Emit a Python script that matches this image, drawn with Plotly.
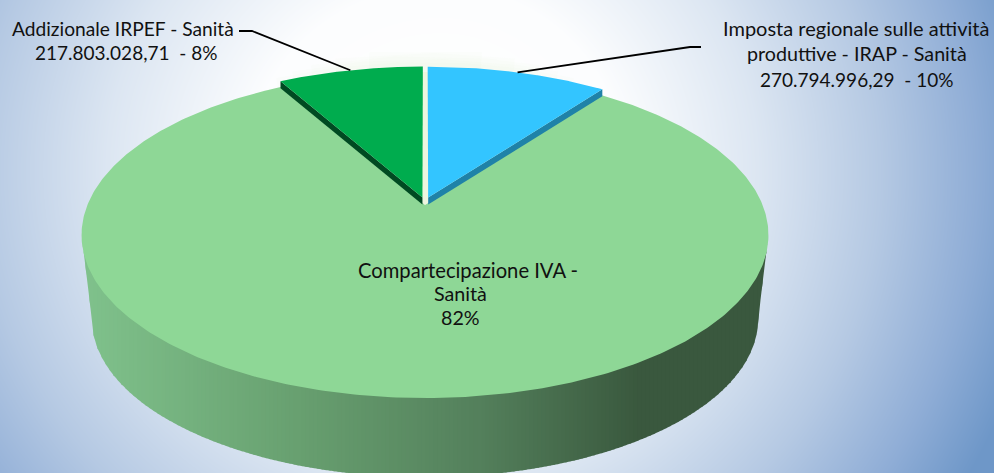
import math
import numpy as np
import plotly.graph_objects as go

# ---- data ----
slice_names = ["Imposta regionale sulle attività produttive - IRAP - Sanità",
               "Compartecipazione IVA - Sanità",
               "Addizionale IRPEF - Sanità"]
slice_shares = [10.2, 81.6, 8.2]
slice_colors = ["#33C5FF", "#8ED796", "#00AC4E"]
side_colors = ["#1F82A8", None, "#004A22"]
label_texts = ["Addizionale IRPEF - Sanità", "217.803.028,71  - 8%",
               "Imposta regionale sulle attività", "produttive - IRAP - Sanità", "270.794.996,29  - 10%",
               "Compartecipazione IVA -", "Sanità", "82%"]

# ---- layout ----
label_x = [122.5, 125.5, 856, 856.5, 856.5, 467.5, 460.5, 460.5]
label_y = [28, 52.5, 27.5, 53.5, 79.5, 269.5, 293.5, 317.5]
label_size = [19.2, 19.0, 20.0, 19.7, 19.0, 20.2, 19.7, 19.7]

W, H = 994, 473
CX, CY = 425.0, 205.0
KP, SX, SY = 0.184, 337.6, 157.5       # perspective of the disc
DEPTH, BOTTOM_SCALE = 85.0, 0.97
EXPLODE_U, EXPLODE_V = 0.03, 0.05


def project(u, v, scale=1.0, dy=0.0):
    u = np.asarray(u, float)
    v = np.asarray(v, float)
    w = 1 + KP * v
    return CX + scale * SX * u / w, CY + dy - scale * SY * v / w


def no_legend_trace(x, y, color=None, line=None, fill=True):
    return go.Scatter(x=x, y=y, mode="lines", fill="toself" if fill else None,
                      fillcolor=color, line=line or dict(width=0), hoverinfo="skip", showlegend=False)


fig = go.Figure()

# background glow
gx = np.arange(0, W + 6, 6)
gy = np.arange(0, H + 6, 6)
xx, yy = np.meshgrid(gx, gy)
dxg = xx - 440.0
dxg = np.where(dxg < 0, dxg / 1.05, dxg)
dist = np.hypot(dxg, yy - 170.0)
fig.add_trace(go.Heatmap(
    x=gx, y=gy, z=np.round(dist, 1), zmin=0, zmax=610, zsmooth="best", showscale=False,
    hoverinfo="skip",
    colorscale=[[0, "#FFFFFF"], [0.3, "#FCFDFE"], [0.52, "#DCE6F2"],
                [0.72, "#B5C9E3"], [0.88, "#8FADD6"], [1, "#6E97C8"]],
))

# outlines of the upper and lower disc
theta = np.linspace(0, 2 * math.pi, 1441)
ut, vt = np.sin(theta), np.cos(theta)
tx, ty = project(ut, vt)
bx, by = project(ut, vt, BOTTOM_SCALE, DEPTH)


def lower_curve(px, py):
    r, l = int(np.argmax(px)), int(np.argmin(px))
    return px[r:l + 1][::-1], py[r:l + 1][::-1]


top_lx, top_ly = lower_curve(tx, ty)
bot_lx, bot_ly = lower_curve(bx, by)
# silhouette of the solid: tangent from the upper disc's extreme to the lower disc's extreme
sil_x = np.r_[top_lx[0], bot_lx, top_lx[-1]]
sil_y = np.r_[top_ly[0], bot_ly, top_ly[-1]]

# soft pale-green glow above the disc, tapering off to the sides
for extent, width in [(0.86, 10), (0.89, 16), (0.92, 22), (0.95, 28), (0.98, 34)]:
    keep = vt > extent
    order = np.argsort(tx[keep])
    fig.add_trace(no_legend_trace(tx[keep][order], ty[keep][order] - 5, fill=False,
                                  line=dict(color="rgba(190,235,170,0.03)", width=width)))

# wall of the big slice, shaded left to right
wall_stops_x = [85, 300, 480, 640, 770]
wall_stops_rgb = [(128, 194, 140), (104, 160, 112), (84, 128, 92), (58, 88, 62), (58, 88, 62)]
edges = np.arange(float(tx.min()), float(tx.max()) + 4, 4.0)
for a, b in zip(edges[:-1], edges[1:]):
    xs = np.linspace(a, min(b + 1.0, float(tx.max())), 6)
    low = np.interp(xs, sil_x, sil_y)
    upper = np.interp(xs, top_lx, top_ly) - 2
    rgb = [int(np.interp(0.5 * (a + b), wall_stops_x, [c[i] for c in wall_stops_rgb])) for i in range(3)]
    fig.add_trace(no_legend_trace(np.r_[xs, xs[::-1]], np.r_[low, upper[::-1]], "rgb(%d,%d,%d)" % tuple(rgb)))

angles = [0.0, slice_shares[0] / 100 * 2 * math.pi,
          (slice_shares[0] + slice_shares[1]) / 100 * 2 * math.pi,
          2 * math.pi]

# pale seam visible between the two lifted slices
for a0, a1 in [(angles[0], angles[1]), (angles[2], angles[3])]:
    arc = np.linspace(a0, a1, 200)
    px, py = project(np.r_[0, np.sin(arc), 0], np.r_[0, np.cos(arc), 0])
    fig.add_trace(no_legend_trace(px, py, "#EEF6DF"))

anchors = {}
for idx in [1, 0, 2]:
    a0, a1 = angles[idx], angles[idx + 1]
    mid = 0.5 * (a0 + a1)
    if idx == 1:
        ou, ov = 0.0, 0.0
    else:
        ou, ov = EXPLODE_U * math.sin(mid), EXPLODE_V * math.cos(mid)
    arc = np.linspace(a0, a1, 400)
    u = np.r_[ou, ou + np.sin(arc), ou]
    v = np.r_[ov, ov + np.cos(arc), ov]
    px, py = project(u, v)
    if side_colors[idx]:
        end = a1 if idx == 0 else a0
        eu, ev = ou + math.sin(end), ov + math.cos(end)
        ax, ay = project(ou, ov)
        ex, ey = project(eu, ev)
        fig.add_trace(no_legend_trace(
            [float(ax), float(ex), float(ex), float(ax), float(ax)],
            [float(ay), float(ey), float(ey) + 7, float(ay) + 7, float(ay)], side_colors[idx]))
    fig.add_trace(go.Scatter(x=px, y=py, mode="lines", fill="toself", fillcolor=slice_colors[idx],
                             line=dict(width=0), name=slice_names[idx], hoverinfo="name", showlegend=False))
    mx, my = project(ou + math.sin(mid), ov + math.cos(mid))
    anchors[idx] = (float(mx), float(my))

# leader lines
for (lx, ly), knee in [(anchors[2], ((239, 31), (252, 31))), (anchors[0], ((701, 47), (690, 47)))]:
    fig.add_trace(no_legend_trace([knee[0][0], knee[1][0], lx], [knee[0][1], knee[1][1], ly], fill=False,
                                  line=dict(color="#000000", width=1.8)))

annotations = [dict(x=x, y=y, text=t, showarrow=False, xanchor="center", yanchor="middle",
                    font=dict(family="Lato, Carlito, sans-serif", size=s, color="#111111"))
               for t, x, y, s in zip(label_texts, label_x, label_y, label_size)]

fig.update_layout(
    width=W, height=H, margin=dict(l=0, r=0, t=0, b=0), showlegend=False,
    paper_bgcolor="#FFFFFF", plot_bgcolor="#FFFFFF", annotations=annotations,
    xaxis=dict(range=[0, W], visible=False, fixedrange=True),
    yaxis=dict(range=[H, 0], visible=False, fixedrange=True),
)
fig.write_html("out.html", config={"displayModeBar": False})
with open("out.html", encoding="utf-8") as fh:
    page = fh.read()
page = page.replace("<body>", '<body style="margin:0;overflow:hidden">', 1)
with open("out.html", "w", encoding="utf-8") as fh:
    fh.write(page)
